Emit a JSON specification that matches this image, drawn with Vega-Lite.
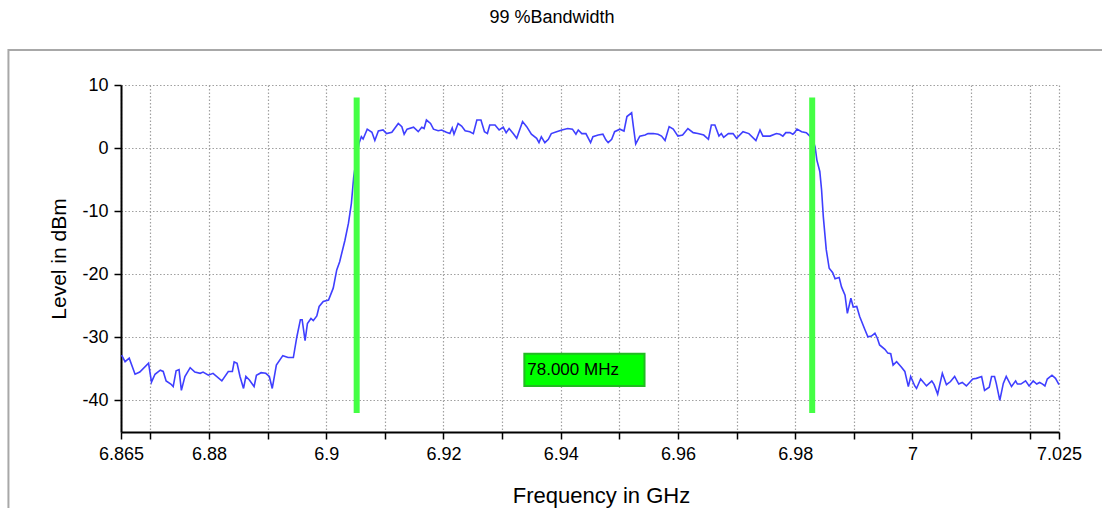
{
  "$schema": "https://vega.github.io/schema/vega-lite/v6.json",
  "autosize": "none",
  "width": 938,
  "height": 347,
  "padding": {"left": 121, "top": 85, "right": 43, "bottom": 76},
  "background": "white",
  "title": {"text": "99 %Bandwidth", "font": "Liberation Sans", "fontSize": 18, "fontWeight": "normal", "color": "black", "frame": "group", "anchor": "middle", "dx": -38, "offset": 22},
  "config": {"view": {"stroke": null}, "font": "Liberation Sans"},
  "datasets": {
    "trace": [
      {"f": 6.8651, "dBm": -32.8}, {"f": 6.8657, "dBm": -33.85}, {"f": 6.8664, "dBm": -33.3}, {"f": 6.8674, "dBm": -35.85},
      {"f": 6.8682, "dBm": -35.5}, {"f": 6.8697, "dBm": -34.1}, {"f": 6.8702, "dBm": -37.1}, {"f": 6.8708, "dBm": -35.85},
      {"f": 6.8717, "dBm": -35.2}, {"f": 6.8722, "dBm": -35.4}, {"f": 6.8727, "dBm": -36.9}, {"f": 6.8735, "dBm": -37.4},
      {"f": 6.8739, "dBm": -37.8}, {"f": 6.8744, "dBm": -35.3}, {"f": 6.8749, "dBm": -35.1}, {"f": 6.8753, "dBm": -38.4},
      {"f": 6.8759, "dBm": -36.2}, {"f": 6.8768, "dBm": -34.8}, {"f": 6.8776, "dBm": -35.5}, {"f": 6.8785, "dBm": -35.7},
      {"f": 6.879, "dBm": -35.5}, {"f": 6.8799, "dBm": -36.0}, {"f": 6.8807, "dBm": -35.7}, {"f": 6.8822, "dBm": -36.9},
      {"f": 6.8833, "dBm": -35.4}, {"f": 6.884, "dBm": -35.4}, {"f": 6.8843, "dBm": -33.9}, {"f": 6.8848, "dBm": -34.1},
      {"f": 6.8853, "dBm": -36.2}, {"f": 6.8859, "dBm": -38.1}, {"f": 6.8863, "dBm": -36.2}, {"f": 6.8869, "dBm": -36.75},
      {"f": 6.8877, "dBm": -37.8}, {"f": 6.8881, "dBm": -36.0}, {"f": 6.8889, "dBm": -35.6}, {"f": 6.8897, "dBm": -35.7},
      {"f": 6.8903, "dBm": -36.2}, {"f": 6.8908, "dBm": -38.1}, {"f": 6.8915, "dBm": -34.4}, {"f": 6.8926, "dBm": -32.9},
      {"f": 6.8935, "dBm": -33.2}, {"f": 6.8944, "dBm": -33.2}, {"f": 6.895, "dBm": -29.9}, {"f": 6.8956, "dBm": -27.2},
      {"f": 6.8959, "dBm": -27.2}, {"f": 6.8964, "dBm": -30.5}, {"f": 6.8968, "dBm": -27.8}, {"f": 6.8974, "dBm": -27.0},
      {"f": 6.8978, "dBm": -27.35}, {"f": 6.8984, "dBm": -26.6}, {"f": 6.8988, "dBm": -25.1}, {"f": 6.8995, "dBm": -24.3},
      {"f": 6.9004, "dBm": -24.1}, {"f": 6.9012, "dBm": -22.2}, {"f": 6.9018, "dBm": -19.3}, {"f": 6.9023, "dBm": -18.0},
      {"f": 6.9032, "dBm": -14.6}, {"f": 6.9038, "dBm": -11.9}, {"f": 6.9043, "dBm": -8.75}, {"f": 6.9047, "dBm": -4.5},
      {"f": 6.9052, "dBm": -1.4}, {"f": 6.9056, "dBm": 0.76}, {"f": 6.906, "dBm": 1.8}, {"f": 6.9063, "dBm": 1.44},
      {"f": 6.907, "dBm": 3.0}, {"f": 6.9078, "dBm": 2.5}, {"f": 6.9083, "dBm": 1.2}, {"f": 6.9089, "dBm": 2.7},
      {"f": 6.9097, "dBm": 2.87}, {"f": 6.9103, "dBm": 2.3}, {"f": 6.9112, "dBm": 2.5}, {"f": 6.9123, "dBm": 3.9},
      {"f": 6.9129, "dBm": 3.4}, {"f": 6.9133, "dBm": 2.2}, {"f": 6.9138, "dBm": 3.0}, {"f": 6.9149, "dBm": 3.3},
      {"f": 6.9157, "dBm": 2.6}, {"f": 6.9163, "dBm": 3.3}, {"f": 6.9167, "dBm": 3.1}, {"f": 6.9171, "dBm": 4.45},
      {"f": 6.9178, "dBm": 3.9}, {"f": 6.9183, "dBm": 3.0}, {"f": 6.9191, "dBm": 2.75}, {"f": 6.9197, "dBm": 2.87},
      {"f": 6.9205, "dBm": 2.5}, {"f": 6.9211, "dBm": 2.3}, {"f": 6.9215, "dBm": 3.2}, {"f": 6.9218, "dBm": 2.2},
      {"f": 6.9225, "dBm": 3.9}, {"f": 6.9231, "dBm": 3.5}, {"f": 6.9237, "dBm": 2.75}, {"f": 6.9245, "dBm": 2.6},
      {"f": 6.9251, "dBm": 2.3}, {"f": 6.9257, "dBm": 4.45}, {"f": 6.9264, "dBm": 4.45}, {"f": 6.927, "dBm": 2.6},
      {"f": 6.9275, "dBm": 2.3}, {"f": 6.9279, "dBm": 3.66}, {"f": 6.9288, "dBm": 3.66}, {"f": 6.9295, "dBm": 2.87},
      {"f": 6.9302, "dBm": 3.3}, {"f": 6.9307, "dBm": 2.45}, {"f": 6.9312, "dBm": 3.1}, {"f": 6.9319, "dBm": 2.3},
      {"f": 6.9325, "dBm": 1.55}, {"f": 6.9335, "dBm": 4.2}, {"f": 6.9342, "dBm": 3.4}, {"f": 6.935, "dBm": 2.2},
      {"f": 6.9359, "dBm": 1.55}, {"f": 6.9363, "dBm": 0.86}, {"f": 6.9367, "dBm": 1.8}, {"f": 6.9373, "dBm": 0.86},
      {"f": 6.9379, "dBm": 1.4}, {"f": 6.9384, "dBm": 2.3}, {"f": 6.9393, "dBm": 2.6}, {"f": 6.9402, "dBm": 2.87},
      {"f": 6.9412, "dBm": 3.1}, {"f": 6.942, "dBm": 3.0}, {"f": 6.9426, "dBm": 2.2}, {"f": 6.943, "dBm": 2.87},
      {"f": 6.9436, "dBm": 2.3}, {"f": 6.9443, "dBm": 2.3}, {"f": 6.9451, "dBm": 0.86}, {"f": 6.9455, "dBm": 1.8},
      {"f": 6.9464, "dBm": 2.07}, {"f": 6.9472, "dBm": 2.2}, {"f": 6.9477, "dBm": 1.3}, {"f": 6.9481, "dBm": 0.86},
      {"f": 6.9487, "dBm": 1.4}, {"f": 6.9492, "dBm": 2.6}, {"f": 6.9501, "dBm": 3.0}, {"f": 6.9508, "dBm": 2.7},
      {"f": 6.9513, "dBm": 5.0}, {"f": 6.9521, "dBm": 5.6}, {"f": 6.9524, "dBm": 3.4}, {"f": 6.9528, "dBm": 0.65},
      {"f": 6.9535, "dBm": 1.9}, {"f": 6.9544, "dBm": 2.07}, {"f": 6.9549, "dBm": 2.3}, {"f": 6.9558, "dBm": 2.3},
      {"f": 6.9566, "dBm": 2.2}, {"f": 6.9572, "dBm": 1.9}, {"f": 6.9578, "dBm": 1.2}, {"f": 6.9585, "dBm": 3.4},
      {"f": 6.9592, "dBm": 3.0}, {"f": 6.96, "dBm": 1.9}, {"f": 6.9608, "dBm": 2.07}, {"f": 6.9617, "dBm": 3.1},
      {"f": 6.9626, "dBm": 2.45}, {"f": 6.9634, "dBm": 2.3}, {"f": 6.9644, "dBm": 2.07}, {"f": 6.9652, "dBm": 1.4},
      {"f": 6.9657, "dBm": 3.66}, {"f": 6.9663, "dBm": 3.66}, {"f": 6.967, "dBm": 1.9}, {"f": 6.9674, "dBm": 2.3},
      {"f": 6.9678, "dBm": 1.7}, {"f": 6.9686, "dBm": 2.3}, {"f": 6.9694, "dBm": 2.3}, {"f": 6.97, "dBm": 1.55},
      {"f": 6.9711, "dBm": 2.6}, {"f": 6.9721, "dBm": 2.3}, {"f": 6.9733, "dBm": 1.2}, {"f": 6.974, "dBm": 2.87},
      {"f": 6.9745, "dBm": 1.9}, {"f": 6.9757, "dBm": 1.9}, {"f": 6.9768, "dBm": 2.3}, {"f": 6.9774, "dBm": 2.2},
      {"f": 6.9779, "dBm": 1.9}, {"f": 6.9784, "dBm": 2.45}, {"f": 6.9791, "dBm": 2.45}, {"f": 6.9796, "dBm": 2.2},
      {"f": 6.9799, "dBm": 2.45}, {"f": 6.9803, "dBm": 3.0}, {"f": 6.9811, "dBm": 2.6}, {"f": 6.9819, "dBm": 2.45},
      {"f": 6.9825, "dBm": 1.9}, {"f": 6.983, "dBm": 1.3}, {"f": 6.9834, "dBm": 0.2}, {"f": 6.9837, "dBm": -1.9},
      {"f": 6.9842, "dBm": -3.7}, {"f": 6.9845, "dBm": -6.6}, {"f": 6.9848, "dBm": -10.9}, {"f": 6.9853, "dBm": -16.1},
      {"f": 6.9858, "dBm": -19.05}, {"f": 6.9864, "dBm": -19.75}, {"f": 6.9868, "dBm": -20.7}, {"f": 6.9875, "dBm": -20.5},
      {"f": 6.9879, "dBm": -22.0}, {"f": 6.9885, "dBm": -23.3}, {"f": 6.9889, "dBm": -26.2}, {"f": 6.9895, "dBm": -23.8},
      {"f": 6.9899, "dBm": -25.2}, {"f": 6.9905, "dBm": -25.1}, {"f": 6.991, "dBm": -26.7}, {"f": 6.9919, "dBm": -28.8},
      {"f": 6.9924, "dBm": -29.9}, {"f": 6.993, "dBm": -29.8}, {"f": 6.9936, "dBm": -29.35}, {"f": 6.994, "dBm": -30.1},
      {"f": 6.9944, "dBm": -31.2}, {"f": 6.9953, "dBm": -31.9}, {"f": 6.9958, "dBm": -32.5}, {"f": 6.9963, "dBm": -32.6},
      {"f": 6.9967, "dBm": -34.4}, {"f": 6.9973, "dBm": -33.85}, {"f": 6.9981, "dBm": -34.7}, {"f": 6.9987, "dBm": -35.4},
      {"f": 6.9993, "dBm": -37.8}, {"f": 6.9997, "dBm": -36.2}, {"f": 7.0004, "dBm": -37.7}, {"f": 7.0007, "dBm": -38.1},
      {"f": 7.0014, "dBm": -36.6}, {"f": 7.0024, "dBm": -37.7}, {"f": 7.0033, "dBm": -36.9}, {"f": 7.0037, "dBm": -37.5},
      {"f": 7.0043, "dBm": -39.0}, {"f": 7.0051, "dBm": -35.7}, {"f": 7.0058, "dBm": -37.5}, {"f": 7.0065, "dBm": -37.0},
      {"f": 7.0072, "dBm": -36.2}, {"f": 7.0079, "dBm": -37.4}, {"f": 7.0085, "dBm": -37.15}, {"f": 7.0092, "dBm": -37.7},
      {"f": 7.0103, "dBm": -36.6}, {"f": 7.0109, "dBm": -36.5}, {"f": 7.0118, "dBm": -36.2}, {"f": 7.0123, "dBm": -38.4},
      {"f": 7.0131, "dBm": -37.9}, {"f": 7.0135, "dBm": -36.2}, {"f": 7.014, "dBm": -36.2}, {"f": 7.0143, "dBm": -37.3},
      {"f": 7.0149, "dBm": -40.0}, {"f": 7.0155, "dBm": -37.3}, {"f": 7.016, "dBm": -36.2}, {"f": 7.0169, "dBm": -37.8},
      {"f": 7.0176, "dBm": -36.9}, {"f": 7.0179, "dBm": -37.4}, {"f": 7.0185, "dBm": -37.4}, {"f": 7.0193, "dBm": -36.9},
      {"f": 7.0199, "dBm": -37.7}, {"f": 7.0206, "dBm": -36.9}, {"f": 7.0212, "dBm": -37.4}, {"f": 7.0217, "dBm": -37.15},
      {"f": 7.0222, "dBm": -37.4}, {"f": 7.0226, "dBm": -37.7}, {"f": 7.023, "dBm": -36.6}, {"f": 7.0238, "dBm": -36.0},
      {"f": 7.0244, "dBm": -36.5}, {"f": 7.025, "dBm": -37.5}
    ],
    "markers": [
      {"f": 6.9052, "top": 8, "bottom": -42},
      {"f": 6.9829, "top": 8, "bottom": -42}
    ],
    "label": [
      {"f1": 6.9338, "f2": 6.9543, "top": -32.6, "bottom": -37.7, "text": "78.000 MHz", "tx": 6.9343, "ty": -35.15}
    ]
  },
  "layer": [
    {
      "data": {"values": [{}]},
      "mark": {"type": "rect", "fill": null, "stroke": "#a8a8a8", "strokeWidth": 2, "clip": false},
      "encoding": {
        "x": {"datum": 6.8458, "type": "quantitative", "scale": {"domain": [6.865, 7.025], "nice": false, "zero": false},
          "axis": {
            "title": "Frequency in GHz",
            "values": [6.865, 6.87, 6.88, 6.89, 6.9, 6.91, 6.92, 6.93, 6.94, 6.95, 6.96, 6.97, 6.98, 6.99, 7, 7.01, 7.02, 7.025],
            "labelExpr": "indexof([6.865, 6.88, 6.9, 6.92, 6.94, 6.96, 6.98, 7, 7.025], datum.value) >= 0 ? datum.value + '' : ''",
            "labelFont": "Liberation Sans", "labelFontSize": 18, "labelColor": "black", "labelPadding": 6,
            "labelOverlap": false, "labelFlush": false,
            "domainColor": "black", "domainWidth": 2, "tickColor": "black", "tickWidth": 1.5, "tickSize": 7,
            "grid": true, "gridColor": "#a0a0a0", "gridDash": [1.5, 2], "gridWidth": 1.2,
            "titleFont": "Liberation Sans", "titleFontSize": 22, "titleFontWeight": "normal", "titleColor": "black", "titlePadding": 22, "titleX": 480
          }
        },
        "x2": {"datum": 7.04},
        "y": {"datum": 15.55, "type": "quantitative", "scale": {"domain": [-45, 10], "nice": false, "zero": false},
          "axis": {
            "title": "Level in dBm",
            "values": [-40, -35, -30, -25, -20, -15, -10, -5, 0, 5, 10],
            "labelExpr": "datum.value % 10 === 0 ? datum.value + '' : ''",
            "labelFont": "Liberation Sans", "labelFontSize": 18, "labelColor": "black", "labelPadding": 6,
            "labelOverlap": false, "labelFlush": false,
            "domainColor": "black", "domainWidth": 2, "tickColor": "black", "tickWidth": 1.5, "tickSize": 7,
            "grid": true, "gridColor": "#a0a0a0", "gridDash": [1.5, 2], "gridWidth": 1.2,
            "titleFont": "Liberation Sans", "titleFontSize": 21, "titleFontWeight": "normal", "titleColor": "black", "titlePadding": 12
          }
        },
        "y2": {"datum": -62}
      }
    },
    {
      "data": {"name": "trace"},
      "mark": {"type": "line", "color": "#3f3fff", "strokeWidth": 1.6},
      "encoding": {
        "x": {"field": "f", "type": "quantitative", "title": "Frequency in GHz"},
        "y": {"field": "dBm", "type": "quantitative", "title": "Level in dBm"}
      }
    },
    {
      "data": {"name": "markers"},
      "mark": {"type": "rule", "color": "#44ff44", "strokeWidth": 6},
      "encoding": {
        "x": {"field": "f", "type": "quantitative", "title": "Frequency in GHz"},
        "y": {"field": "top", "type": "quantitative", "title": "Level in dBm"},
        "y2": {"field": "bottom"}
      }
    },
    {
      "data": {"name": "label"},
      "mark": {"type": "rect", "fill": "#00ff00", "stroke": "#22bb22", "strokeWidth": 2},
      "encoding": {
        "x": {"field": "f1", "type": "quantitative", "title": "Frequency in GHz"},
        "x2": {"field": "f2"},
        "y": {"field": "top", "type": "quantitative", "title": "Level in dBm"},
        "y2": {"field": "bottom"}
      }
    },
    {
      "data": {"name": "label"},
      "mark": {"type": "text", "align": "left", "baseline": "middle", "font": "Liberation Sans", "fontSize": 17, "color": "black"},
      "encoding": {
        "x": {"field": "tx", "type": "quantitative", "title": "Frequency in GHz"},
        "y": {"field": "ty", "type": "quantitative", "title": "Level in dBm"},
        "text": {"field": "text"}
      }
    }
  ]
}
